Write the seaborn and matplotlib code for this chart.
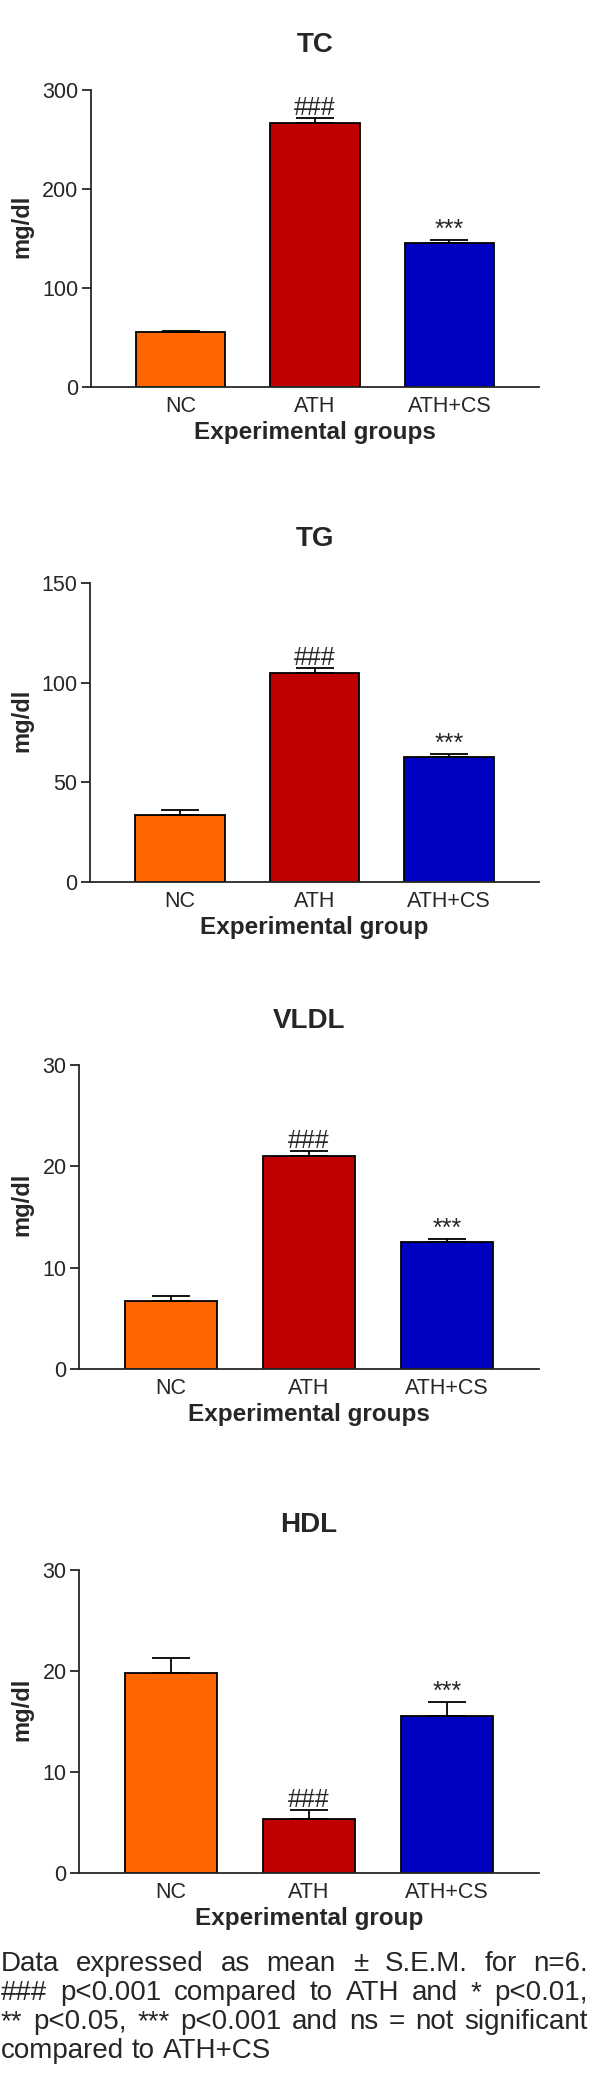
import matplotlib
matplotlib.use("Agg")
import matplotlib.pyplot as plt
import seaborn as sns
import numpy as np

# Groups and colours
groups = ['NC', 'ATH', 'ATH+CS']
bar_colors = ['#FF6600', '#C00000', '#0000C0']

# Mean values and S.E.M.
tc_mean = [55.4, 267.1, 145.3]
tc_sem = [1.0, 5.0, 3.0]
tg_mean = [33.8, 105.1, 62.6]
tg_sem = [2.4, 2.5, 1.5]
vldl_mean = [6.7, 21.0, 12.5]
vldl_sem = [0.53, 0.53, 0.36]
hdl_mean = [19.8, 5.3, 15.5]
hdl_sem = [1.45, 0.91, 1.45]

# significance marks per group
marks = ['', '###', '***']

caption_lines = [
    'Data expressed as mean \u00b1 S.E.M. for n=6.',
    '### p<0.001 compared to ATH and * p<0.01,',
    '** p<0.05, *** p<0.001 and ns = not significant',
    'compared to ATH+CS',
]

sns.set_style('ticks')
plt.rcParams['font.family'] = ['Liberation Sans', 'DejaVu Sans']

W, H = 590, 2074
fig = plt.figure(figsize=(W / 100, H / 100), dpi=100)

# panel boxes in pixels: left, right, top, bottom
panels = [
    ('TC', tc_mean, tc_sem, [0, 100, 200, 300], 'Experimental groups', (91, 539, 90, 387)),
    ('TG', tg_mean, tg_sem, [0, 50, 100, 150], 'Experimental group', (90, 539, 583, 882)),
    ('VLDL', vldl_mean, vldl_sem, [0, 10, 20, 30], 'Experimental groups', (79, 539, 1065, 1369)),
    ('HDL', hdl_mean, hdl_sem, [0, 10, 20, 30], 'Experimental group', (79, 539, 1570, 1873)),
]

for title, mean, sem, ticks, xlab, (l, r, t, b) in panels:
    ax = fig.add_axes([l / W, (H - b) / H, (r - l) / W, (b - t) / H])
    sns.barplot(x=groups, y=mean, hue=groups, palette=bar_colors, legend=False,
                edgecolor='black', linewidth=1.3, width=0.667, saturation=1, ax=ax)
    tops = np.array(mean) + np.array(sem)
    ax.errorbar(range(3), mean, yerr=[np.zeros(3), sem], fmt='none', ecolor='black',
                elinewidth=1.3, capsize=14, capthick=1.3, zorder=5)
    for i, m in enumerate(marks):
        if m:
            ax.annotate(m, (i, tops[i]), xytext=(0, -1.5), textcoords='offset points',
                        ha='center', va='bottom', fontsize=18)
    ax.set_xlim(-0.667, 2.667)
    ax.set_ylim(0, ticks[-1])
    ax.set_yticks(ticks)
    sns.despine(ax=ax)
    for s in ['left', 'bottom']:
        ax.spines[s].set_linewidth(1.3)
    ax.tick_params(axis='y', length=6.5, width=1.3, pad=2.5, labelsize=15.5)
    ax.tick_params(axis='x', length=0, pad=6.5, labelsize=15.5)
    ax.set_title(title, fontsize=20, fontweight='bold', pad=27)
    ax.set_xlabel(xlab, fontsize=17.5, fontweight='bold', labelpad=3)
    ax.set_ylabel('mg/dl', fontsize=17, fontweight='bold')
    ax.yaxis.set_label_coords((33 - l) / (r - l), 0.54)

# justified caption
renderer = fig.canvas.get_renderer()
baselines = [1971, 2000, 2029, 2058]
right_px = 588
fs = 20
for i, line in enumerate(caption_lines):
    words = line.split(' ')
    texts = [fig.text(0, (H - baselines[i]) / H, w, fontsize=fs, va='baseline', ha='left')
             for w in words]
    widths = [tx.get_window_extent(renderer).width for tx in texts]
    if i < len(caption_lines) - 1:
        gap = (right_px - 1 - sum(widths)) / (len(words) - 1)
    else:
        gap = fs * 0.278 * 100 / 72
    x = 1
    for tx, w in zip(texts, widths):
        tx.set_x(x / W)
        x += w + gap

fig.savefig('out.png', dpi=100)
